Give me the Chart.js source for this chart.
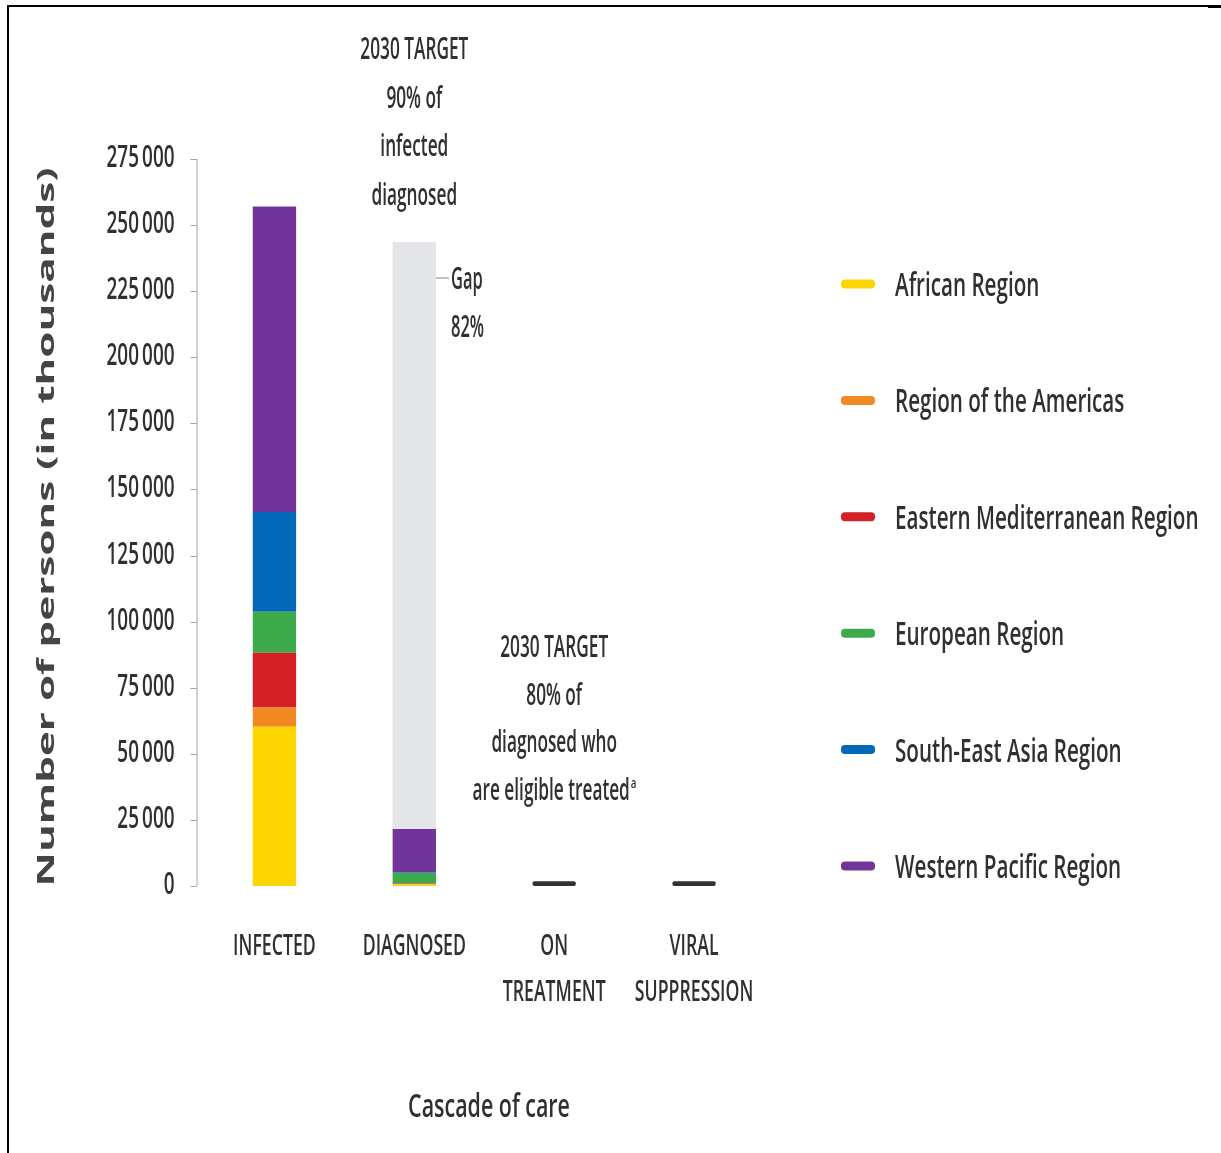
<!DOCTYPE html>
<html>
<head>
<meta charset="utf-8">
<title>Cascade of care</title>
<script src="https://cdn.jsdelivr.net/npm/chart.js@4.4.1/dist/chart.umd.min.js"></script>
<style>
    html, body { margin: 0; padding: 0; background: #fff; }
    #wrap { position: relative; width: 1221px; height: 1153px; }
    #frame { position: absolute; left: 7px; top: 5px; right: 13px; bottom: 0; border-top: 2px solid #000; border-left: 2px solid #000; pointer-events: none; }
    #frameEnd { position: absolute; right: 0; top: 5px; width: 13px; height: 3px; background: #000; }
</style>
</head>
<body>
<div id="wrap">
    <canvas id="cascadeChart"></canvas>
    <div id="frame"></div>
    <div id="frameEnd"></div>
</div>
<script>
// Cascade steps along the x axis
const categories = ['INFECTED', 'DIAGNOSED', 'ON TREATMENT', 'VIRAL SUPPRESSION'];
const categoryLines = [['INFECTED'], ['DIAGNOSED'], ['ON', 'TREATMENT'], ['VIRAL', 'SUPPRESSION']];

// Persons (in thousands) per WHO region
const regionNames = ['African Region', 'Region of the Americas', 'Eastern Mediterranean Region',
    'European Region', 'South-East Asia Region', 'Western Pacific Region'];
const regionColors = ['#FDD600', '#F18A22', '#D42128', '#3DAA4B', '#0468B8', '#70349A'];
const african       = [60200,   600, null, null];
const americas      = [7300,    200, null, null];
const easternMed    = [20700,   100, null, null];
const european      = [15500,  4000, null, null];
const southEastAsia = [37800,   200, null, null];
const westernPac    = [115500, 16500, null, null];

// Distance to the diagnosis target, and the dash shown where no figure exists
const targetGap = [null, 222000, null, null];
const noFigure  = [null, null, 1800, 1800];

const yTickValues = [0, 25000, 50000, 75000, 100000, 125000, 150000, 175000, 200000, 225000, 250000, 275000];

const FONT = '"Open Sans", "Noto Sans", sans-serif';
const TEXT = '#303030';

function fmt(v) {
    return String(v).replace(/\B(?=(\d{3})+(?!\d))/g, '\u2009');
}

// draws squeezed text, the labels here are all set in a narrow face
function txt(ctx, s, x, y, o) {
    ctx.save();
    ctx.font = `${o.weight || 600} ${o.size}px ${FONT}`;
    ctx.fillStyle = o.color || TEXT;
    ctx.textAlign = o.align || 'center';
    ctx.textBaseline = o.baseline || 'alphabetic';
    ctx.translate(x, y);
    if (o.rotate) ctx.rotate(o.rotate);
    ctx.scale(o.sx || 1, 1);
    ctx.fillText(s, 0, 0);
    ctx.restore();
}

const seriesData = [african, americas, easternMed, european, southEastAsia, westernPac];
const datasets = regionNames.map((name, i) => ({
    label: name,
    data: seriesData[i],
    backgroundColor: regionColors[i]
}));
datasets.push({ label: 'Gap', data: targetGap, backgroundColor: '#E4E5E8', inLegend: false });
datasets.push({ label: 'No figure', data: noFigure, backgroundColor: '#333333', borderRadius: 2, borderSkipped: false, inLegend: false });

const decorPlugin = {
    id: 'decor',
    afterDraw(chart) {
        const ctx = chart.ctx;
        const x = chart.scales.x;
        const y = chart.scales.y;
        const axisX = chart.chartArea.left - 8;

        // y axis line with outside ticks
        ctx.save();
        ctx.strokeStyle = '#a6a6a6';
        ctx.lineWidth = 1;
        ctx.beginPath();
        ctx.moveTo(axisX + 0.5, y.getPixelForValue(y.max));
        ctx.lineTo(axisX + 0.5, y.getPixelForValue(0));
        y.ticks.forEach(t => {
            const py = Math.round(y.getPixelForValue(t.value)) + 0.5;
            ctx.moveTo(axisX - 6, py);
            ctx.lineTo(axisX + 0.5, py);
        });
        ctx.stroke();
        ctx.restore();

        y.ticks.forEach(t => {
            txt(ctx, fmt(t.value), axisX - 22, y.getPixelForValue(t.value) + 8,
                { size: 30, sx: 0.63, align: 'right' });
        });

        // axis title
        txt(ctx, 'Number of persons (in thousands)', 47, 527,
            { size: 24, weight: 700, sx: 1.76, rotate: -Math.PI / 2, baseline: 'middle', color: '#444' });

        // category labels
        categoryLines.forEach((lines, i) => {
            const cx = x.getPixelForValue(i);
            lines.forEach((line, j) => {
                txt(ctx, line, cx, 955 + j * 46, { size: 29.5, sx: 0.6 });
            });
        });

        txt(ctx, 'Cascade of care', 489, 1117, { size: 32, sx: 0.67 });

        // target notes above the bars
        const dx = x.getPixelForValue(1);
        ['2030 TARGET', '90% of', 'infected', 'diagnosed'].forEach((line, j) => {
            txt(ctx, line, dx, 59 + j * 48.5, { size: 30.5, sx: 0.565 });
        });
        const tx = x.getPixelForValue(2);
        ['2030 TARGET', '80% of', 'diagnosed who'].forEach((line, j) => {
            txt(ctx, line, tx, 657 + j * 47.7, { size: 30.5, sx: 0.565 });
        });
        txt(ctx, 'are eligible treated', tx - 3, 800, { size: 30.5, sx: 0.565 });
        ctx.save();
        ctx.font = `600 30.5px ${FONT}`;
        const w = ctx.measureText('are eligible treated').width * 0.565;
        ctx.restore();
        txt(ctx, 'a', tx - 3 + w / 2 + 1, 788, { size: 14, sx: 0.7, align: 'left' });

        // gap callout on the diagnosed bar
        const meta = chart.getDatasetMeta(chart.data.datasets.findIndex(d => d.label === 'Gap'));
        const bar = meta.data[1];
        const right = bar.x + bar.width / 2;
        const gy = bar.y + 36;
        ctx.save();
        ctx.strokeStyle = '#9a9a9a';
        ctx.lineWidth = 1.2;
        ctx.beginPath();
        ctx.moveTo(right, gy);
        ctx.lineTo(right + 13, gy);
        ctx.stroke();
        ctx.restore();
        txt(ctx, 'Gap', right + 15, gy + 11, { size: 30.5, sx: 0.54, align: 'left' });
        txt(ctx, '82%', right + 15, gy + 59, { size: 30.5, sx: 0.54, align: 'left' });

        // legend
        chart.data.datasets.filter(d => d.inLegend !== false).forEach((d, i) => {
            const cy = 284 + i * 116.4;
            ctx.save();
            ctx.fillStyle = d.backgroundColor;
            ctx.beginPath();
            ctx.roundRect(841, cy - 4.5, 34, 9, 4);
            ctx.fill();
            ctx.restore();
            txt(ctx, d.label, 895, cy + 12, { size: 33, sx: 0.625, align: 'left' });
        });
    }
};

new Chart(document.getElementById('cascadeChart'), {
    type: 'bar',
    data: { labels: categories, datasets: datasets },
    options: {
        responsive: true,
        maintainAspectRatio: false,
        animation: false,
        layout: { padding: { left: 204.5, right: 457, top: 159, bottom: 267 } },
        datasets: { bar: { categoryPercentage: 1, barPercentage: 0.31, borderWidth: 0 } },
        scales: {
            x: { stacked: true, display: false },
            y: {
                stacked: true,
                display: false,
                min: 0,
                max: 275000,
                afterBuildTicks: s => { s.ticks = yTickValues.map(v => ({ value: v })); }
            }
        },
        plugins: {
            legend: { display: false },
            tooltip: { enabled: false }
        }
    },
    plugins: [decorPlugin]
});
</script>
</body>
</html>
